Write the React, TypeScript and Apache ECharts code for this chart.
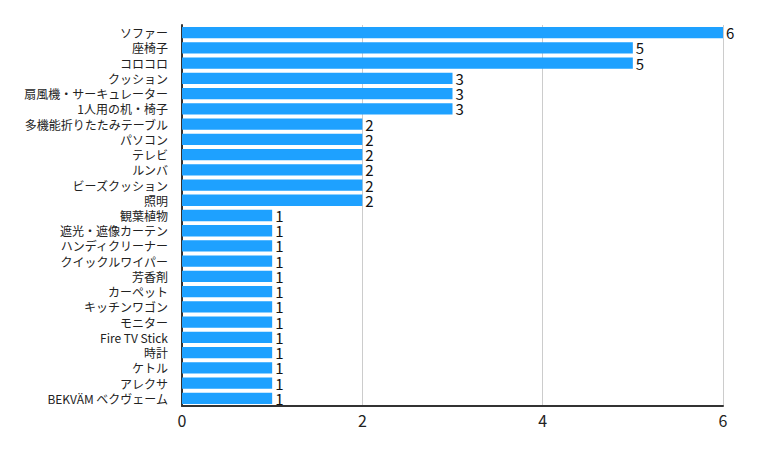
import React, { useEffect, useRef } from "react";
import * as echarts from "echarts";

const categories = [
  "ソファー",
  "座椅子",
  "コロコロ",
  "クッション",
  "扇風機・サーキュレーター",
  "1人用の机・椅子",
  "多機能折りたたみテーブル",
  "パソコン",
  "テレビ",
  "ルンバ",
  "ビーズクッション",
  "照明",
  "観葉植物",
  "遮光・遮像カーテン",
  "ハンディクリーナー",
  "クイックルワイパー",
  "芳香剤",
  "カーペット",
  "キッチンワゴン",
  "モニター",
  "Fire TV Stick",
  "時計",
  "ケトル",
  "アレクサ",
  "BEKVÄM ベクヴェーム",
];
const values = [6, 5, 5, 3, 3, 3, 2, 2, 2, 2, 2, 2, 1, 1, 1, 1, 1, 1, 1, 1, 1, 1, 1, 1, 1];
const xTicks = { min: 0, max: 6, interval: 2 };

const FONT = "'Noto Sans CJK JP', 'Noto Sans', sans-serif";

export default function App() {
  const ref = useRef<HTMLDivElement>(null);
  useEffect(() => {
    if (!ref.current) return;
    const chart = echarts.init(ref.current, undefined, { renderer: "svg" });
    chart.setOption({
      animation: false,
      textStyle: { fontFamily: FONT },
      grid: { left: 174, right: 33, top: 17, bottom: 37, containLabel: false },
      xAxis: {
        type: "value",
        min: xTicks.min,
        max: xTicks.max,
        interval: xTicks.interval,
        axisLine: { show: true, lineStyle: { color: "#333", width: 2 } },
        axisTick: { show: false },
        splitLine: { show: true, lineStyle: { color: "#ccc", width: 1 } },
        axisLabel: { color: "#222", fontSize: 16, margin: 6, fontFamily: FONT },
      },
      yAxis: {
        type: "category",
        data: categories,
        inverse: true,
        axisLine: { show: true, lineStyle: { color: "#333", width: 2 } },
        axisTick: { show: false },
        axisLabel: { color: "#222", fontSize: 12, lineHeight: 14, margin: 14, interval: 0, fontFamily: FONT },
      },
      series: [
        {
          type: "bar",
          data: values,
          barCategoryGap: "26%",
          itemStyle: { color: "#1ea1ff" },
          label: {
            show: true,
            position: "right",
            distance: 3,
            color: "#111",
            fontSize: 15,
            lineHeight: 14,
            fontFamily: FONT,
          },
        },
      ],
    });
    return () => chart.dispose();
  }, []);
  return <div ref={ref} style={{ width: 748, height: 435 }} />;
}
